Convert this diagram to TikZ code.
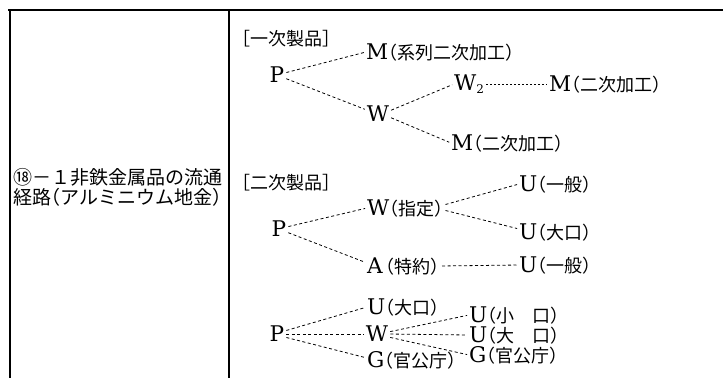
\documentclass[tikz,border=0pt]{standalone}
\usepackage{fontspec}
\setmainfont{Noto Sans CJK JP}[RawFeature=+halt]
\newfontfamily\lat{DejaVu Serif}[Scale=1.2]
\newcommand{\Lt}[1]{{\lat #1}}
\begin{document}
\begin{tikzpicture}[x=1pt,y=-1pt,
  every node/.style={inner sep=0pt, font=\fontsize{18}{19}\selectfont},
  lt/.style={anchor=west},
  dl/.style={draw, line width=0.8pt, dash pattern=on 3pt off 2.5pt, shorten <=2pt, shorten >=2pt},
  fine/.style={dl, dash pattern=on 2pt off 2pt}]
\useasboundingbox (0,0) rectangle (723,378);
% table rules
\draw[line width=2pt] (8,10) -- (723,10);
\draw[line width=1.5pt] (10,10) -- (10,378);
\draw[line width=1.2pt] (229,10) -- (229,378);
% left label
\node[anchor=west, align=left, font=\fontsize{19}{20}\selectfont] (lbl) at (13,187) {⑱－１非鉄金属品の流通\\経路（アルミニウム地金）};
% section 1
\node[lt] (b1) at (241,39) {［一次製品］};
\node (P1) at (277,75) {\Lt{P}};
\node[lt] (M1) at (366,52) {\Lt{M}（系列二次加工）};
\node (W1) at (378,114) {\Lt{W}};
\node[lt] (W2) at (454,84) {\Lt{W}\raisebox{-3pt}{\fontsize{10}{10}\selectfont\lat 2}};
\node[lt] (M2) at (549,84) {\Lt{M}（二次加工）};
\node[lt] (M3) at (451,143) {\Lt{M}（二次加工）};
\draw[dl] ([yshift=2pt]P1.east) -- (M1.west);
\draw[dl] ([yshift=-3pt]P1.east) -- ([yshift=4pt]W1.west);
\draw[dl] ([yshift=3pt]W1.east) -- (W2.west);
\draw[fine] (W2.east) -- (M2.west);
\draw[dl] ([yshift=-3pt]W1.east) -- (M3.west);
% section 2
\node[lt] (b2) at (241,183) {［二次製品］};
\node (P2) at (279,229) {\Lt{P}};
\node[lt] (Wz) at (367,208) {\Lt{W}（指定）};
\node[lt] (Ak) at (367,266) {\Lt{A}\,（特約）};
\node[lt] (U1) at (519,184) {\Lt{U}（一般）};
\node[lt] (U2) at (519,232) {\Lt{U}（大口）};
\node[lt] (U3) at (519,265) {\Lt{U}（一般）};
\draw[dl] ([yshift=2pt]P2.east) -- (Wz.west);
\draw[dl] ([yshift=-3pt]P2.east) -- ([yshift=3pt]Ak.west);
\draw[dl] ([yshift=3pt]Wz.east) -- (U1.west);
\draw[dl] ([yshift=-2pt]Wz.east) -- ([yshift=3pt]U2.west);
\draw[dl] (Ak.east) -- (U3.west);
% section 3
\node (P3) at (277,334) {\Lt{P}};
\node[lt] (Ud) at (367,307) {\Lt{U}（大口）};
\node (W3) at (377,334) {\Lt{W}};
\node[lt] (Gm) at (367,360) {\Lt{G}（官公庁）};
\node[lt] (Us) at (469,315) {\Lt{U}（小　口）};
\node[lt] (Ul) at (469,335) {\Lt{U}（大　口）};
\node[lt] (Gr) at (469,355) {\Lt{G}（官公庁）};
\draw[dl] ([yshift=3pt]P3.east) -- (Ud.west);
\draw[dl] (P3.east) -- (W3.west);
\draw[dl] ([yshift=-3pt]P3.east) -- ([yshift=2pt]Gm.west);
\draw[dl] ([yshift=2pt]W3.east) -- (Us.west);
\draw[dl] (W3.east) -- (Ul.west);
\draw[dl] ([yshift=-3pt]W3.east) -- (Gr.west);
\end{tikzpicture}
\end{document}
